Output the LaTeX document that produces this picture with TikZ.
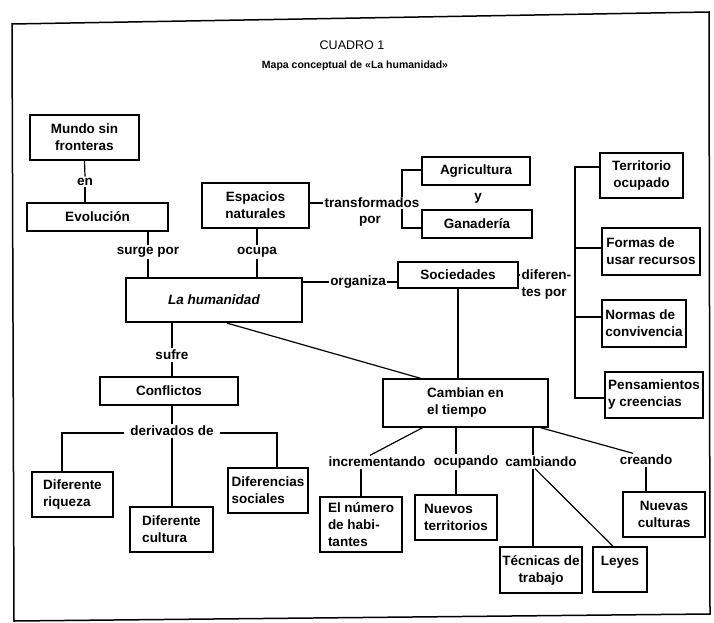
\documentclass[tikz,border=0pt]{standalone}
\usepackage{fontspec}
\setmainfont{Liberation Sans}
\newcommand\mf{\fontsize{13.5}{17}\selectfont\bfseries}
\begin{document}
\begin{tikzpicture}[x=1pt,y=-1pt,
 box/.style={draw, line width=1.4pt, inner sep=2pt, font=\mf, align=center},
 lbox/.style={box, align=left},
 lab/.style={font=\mf, inner sep=1.5pt, align=center},
 conn/.style={line width=1.2pt}]
\useasboundingbox (0,0) rectangle (714,623);
\draw[line width=1.5pt] (12,24) -- (709,12) -- (710,614) -- (14,621) -- cycle;
\node[font=\fontsize{12.5}{14}\selectfont] (t1) at (352,45) {CUADRO 1};
\node[font=\fontsize{10.5}{12}\selectfont\bfseries] (t2) at (355,66) {Mapa conceptual de «La humanidad»};

% upper left
\node[box, minimum width=109pt, minimum height=45pt] (mundo) at (84.5,137.5) {Mundo sin\\fronteras};
\node[lab] (en) at (85,182) {en};
\node[box, minimum width=141pt, minimum height=28pt] (evol) at (97.5,217) {Evolución};
\node[lab] (surge) at (148,252) {surge por};
\node[box, minimum width=107pt, minimum height=45pt] (esp) at (255.5,205.5) {Espacios\\naturales};
\node[lab] (ocupa) at (257,252) {ocupa};
\node[box, line width=2.2pt, minimum width=176pt, minimum height=44pt] (hum) at (214,300) {\itshape La humanidad};

\draw[conn] (mundo.south) -- (en.north);
\draw[conn] (en.south) -- (en.south |- evol.north);
\draw[conn] (surge.north |- evol.south) -- (surge.north);
\draw[conn] (surge.south) -- (surge.south |- hum.north);
\draw[conn] (ocupa.north |- esp.south) -- (ocupa.north);
\draw[conn] (ocupa.south) -- (ocupa.south |- hum.north);

% agricultura / ganaderia
\node[box, minimum width=108pt, minimum height=28pt] (agri) at (476,171) {Agricultura};
\node[lab] (yy) at (478,198) {y};
\node[box, minimum width=110pt, minimum height=28pt] (gan) at (477,224) {Ganadería};
\coordinate (bt) at (402,170);
\coordinate (bb) at (402,228);
\draw[conn] (agri.west |- bt) -- (bt) -- (bb) -- (gan.west |- bb);
\node[lab, fill=white] (trans) at (372,203) {transformados};
\node[lab] (por) at (370,221) {por};
\draw[conn] (esp.east |- trans.west) -- (trans.west);

% sociedades
\node[box, minimum width=120pt, minimum height=26pt] (soc) at (458,275) {Sociedades};
\node[lab] (org) at (358,282) {organiza};
\draw[conn] (hum.east |- org) -- (org.west);
\draw[conn] (org.east) -- (org -| soc.west);
\node[lab, align=left, anchor=west] (dif) at (520,285) {diferen-\\tes por};
\draw[conn] (soc.east) -- (soc.east -| dif.west);

% right column
\node[box, minimum width=83pt, minimum height=45pt] (terr) at (641.5,175.5) {Territorio\\ocupado};
\node[lbox, minimum width=98pt, minimum height=47pt] (formas) at (651,251.5) {Formas de\\usar recursos};
\node[lbox, minimum width=84pt, minimum height=47pt] (normas) at (644,323.5) {Normas de\\convivencia};
\node[lbox, minimum width=98pt, minimum height=46pt] (pens) at (654,395) {Pensamientos\\y creencias};
\coordinate (r1) at (575,167);
\coordinate (r2) at (575,248);
\coordinate (r3) at (575,317);
\coordinate (r4) at (575,398);
\draw[conn] (terr.west |- r1) -- (r1) -- (r4) -- (pens.west |- r4);
\draw[conn] (r2) -- (formas.west |- r2);
\draw[conn] (r3) -- (normas.west |- r3);

% conflictos
\node[lab] (sufre) at (172,355) {sufre};
\node[box, minimum width=138pt, minimum height=28pt] (confl) at (169,391) {Conflictos};
\draw[conn] (sufre.north |- hum.south) -- (sufre.north);
\draw[conn] (sufre.south) -- (sufre.south |- confl.north);
\node[lab, inner xsep=6pt] (der) at (172,431) {derivados de};
\node[lbox, minimum width=81pt, minimum height=45pt] (riq) at (72.5,494.5) {Diferente\\riqueza};
\node[lbox, minimum width=83pt, minimum height=45pt] (cult) at (171.5,529.5) {Diferente\\cultura};
\node[lbox, minimum width=80pt, minimum height=45pt] (dsoc) at (268,490.5) {Diferencias\\sociales};
\draw[conn] (der.north |- confl.south) -- (der.north);
\draw[conn] (der.south) -- (der.south |- cult.north);
\coordinate (dl) at (62,433);
\coordinate (dr) at (277,433);
\draw[conn] (der.west |- dl) -- (dl) -- (dl |- riq.north);
\draw[conn] (der.east |- dr) -- (dr) -- (dr |- dsoc.north);

% cambian
\node[lbox, minimum width=165pt, minimum height=48pt] (camb) at (465.5,403) {Cambian en\\el tiempo};
\draw[conn] ([xshift=13pt]hum.south) -- ([xshift=-45pt]camb.north);
\draw[conn] (soc.south) -- (soc.south |- camb.north);

\node[lab] (incr) at (377,462) {incrementando};
\node[lab] (ocup) at (466,462) {ocupando};
\node[lab] (camb2) at (541,462) {cambiando};
\node[lab] (crea) at (646,460) {creando};

\node[lbox, minimum width=82pt, minimum height=55pt] (num) at (361,524.5) {El número\\de habi-\\tantes};
\node[lbox, minimum width=82pt, minimum height=45pt] (ter) at (456,517.5) {Nuevos\\territorios};
\node[box, minimum width=82pt, minimum height=46pt] (tec) at (541,570) {Técnicas de\\trabajo};
\node[box, minimum width=54pt, minimum height=45pt] (leyes) at (620,569.5) {Leyes\\\mbox{}};
\node[box, minimum width=82pt, minimum height=45pt] (nc) at (664,514.5) {Nuevas\\culturas};

\draw[conn] ([xshift=-43pt]camb.south) -- ([xshift=-7pt]incr.north);
\draw[conn] (incr.south -| num.north) -- (num.north);
\draw[conn] (ter.north |- camb.south) -- (ter.north |- ocup.north);
\draw[conn] (ter.north |- ocup.south) -- (ter.north);
\coordinate (tc) at ([xshift=-8pt]tec.north);
\draw[conn] (tc |- camb.south) -- (tc |- camb2.north);
\draw[conn] (tc |- camb2.south) -- (tc);
\draw[conn] ([xshift=-6pt]camb2.south) -- ([xshift=-7pt]leyes.north);
\draw[conn] ([xshift=-8pt]camb.south east) -- ([xshift=-13pt]crea.north);
\draw[conn] (crea.south) -- (crea.south |- nc.north);
\end{tikzpicture}
\end{document}
